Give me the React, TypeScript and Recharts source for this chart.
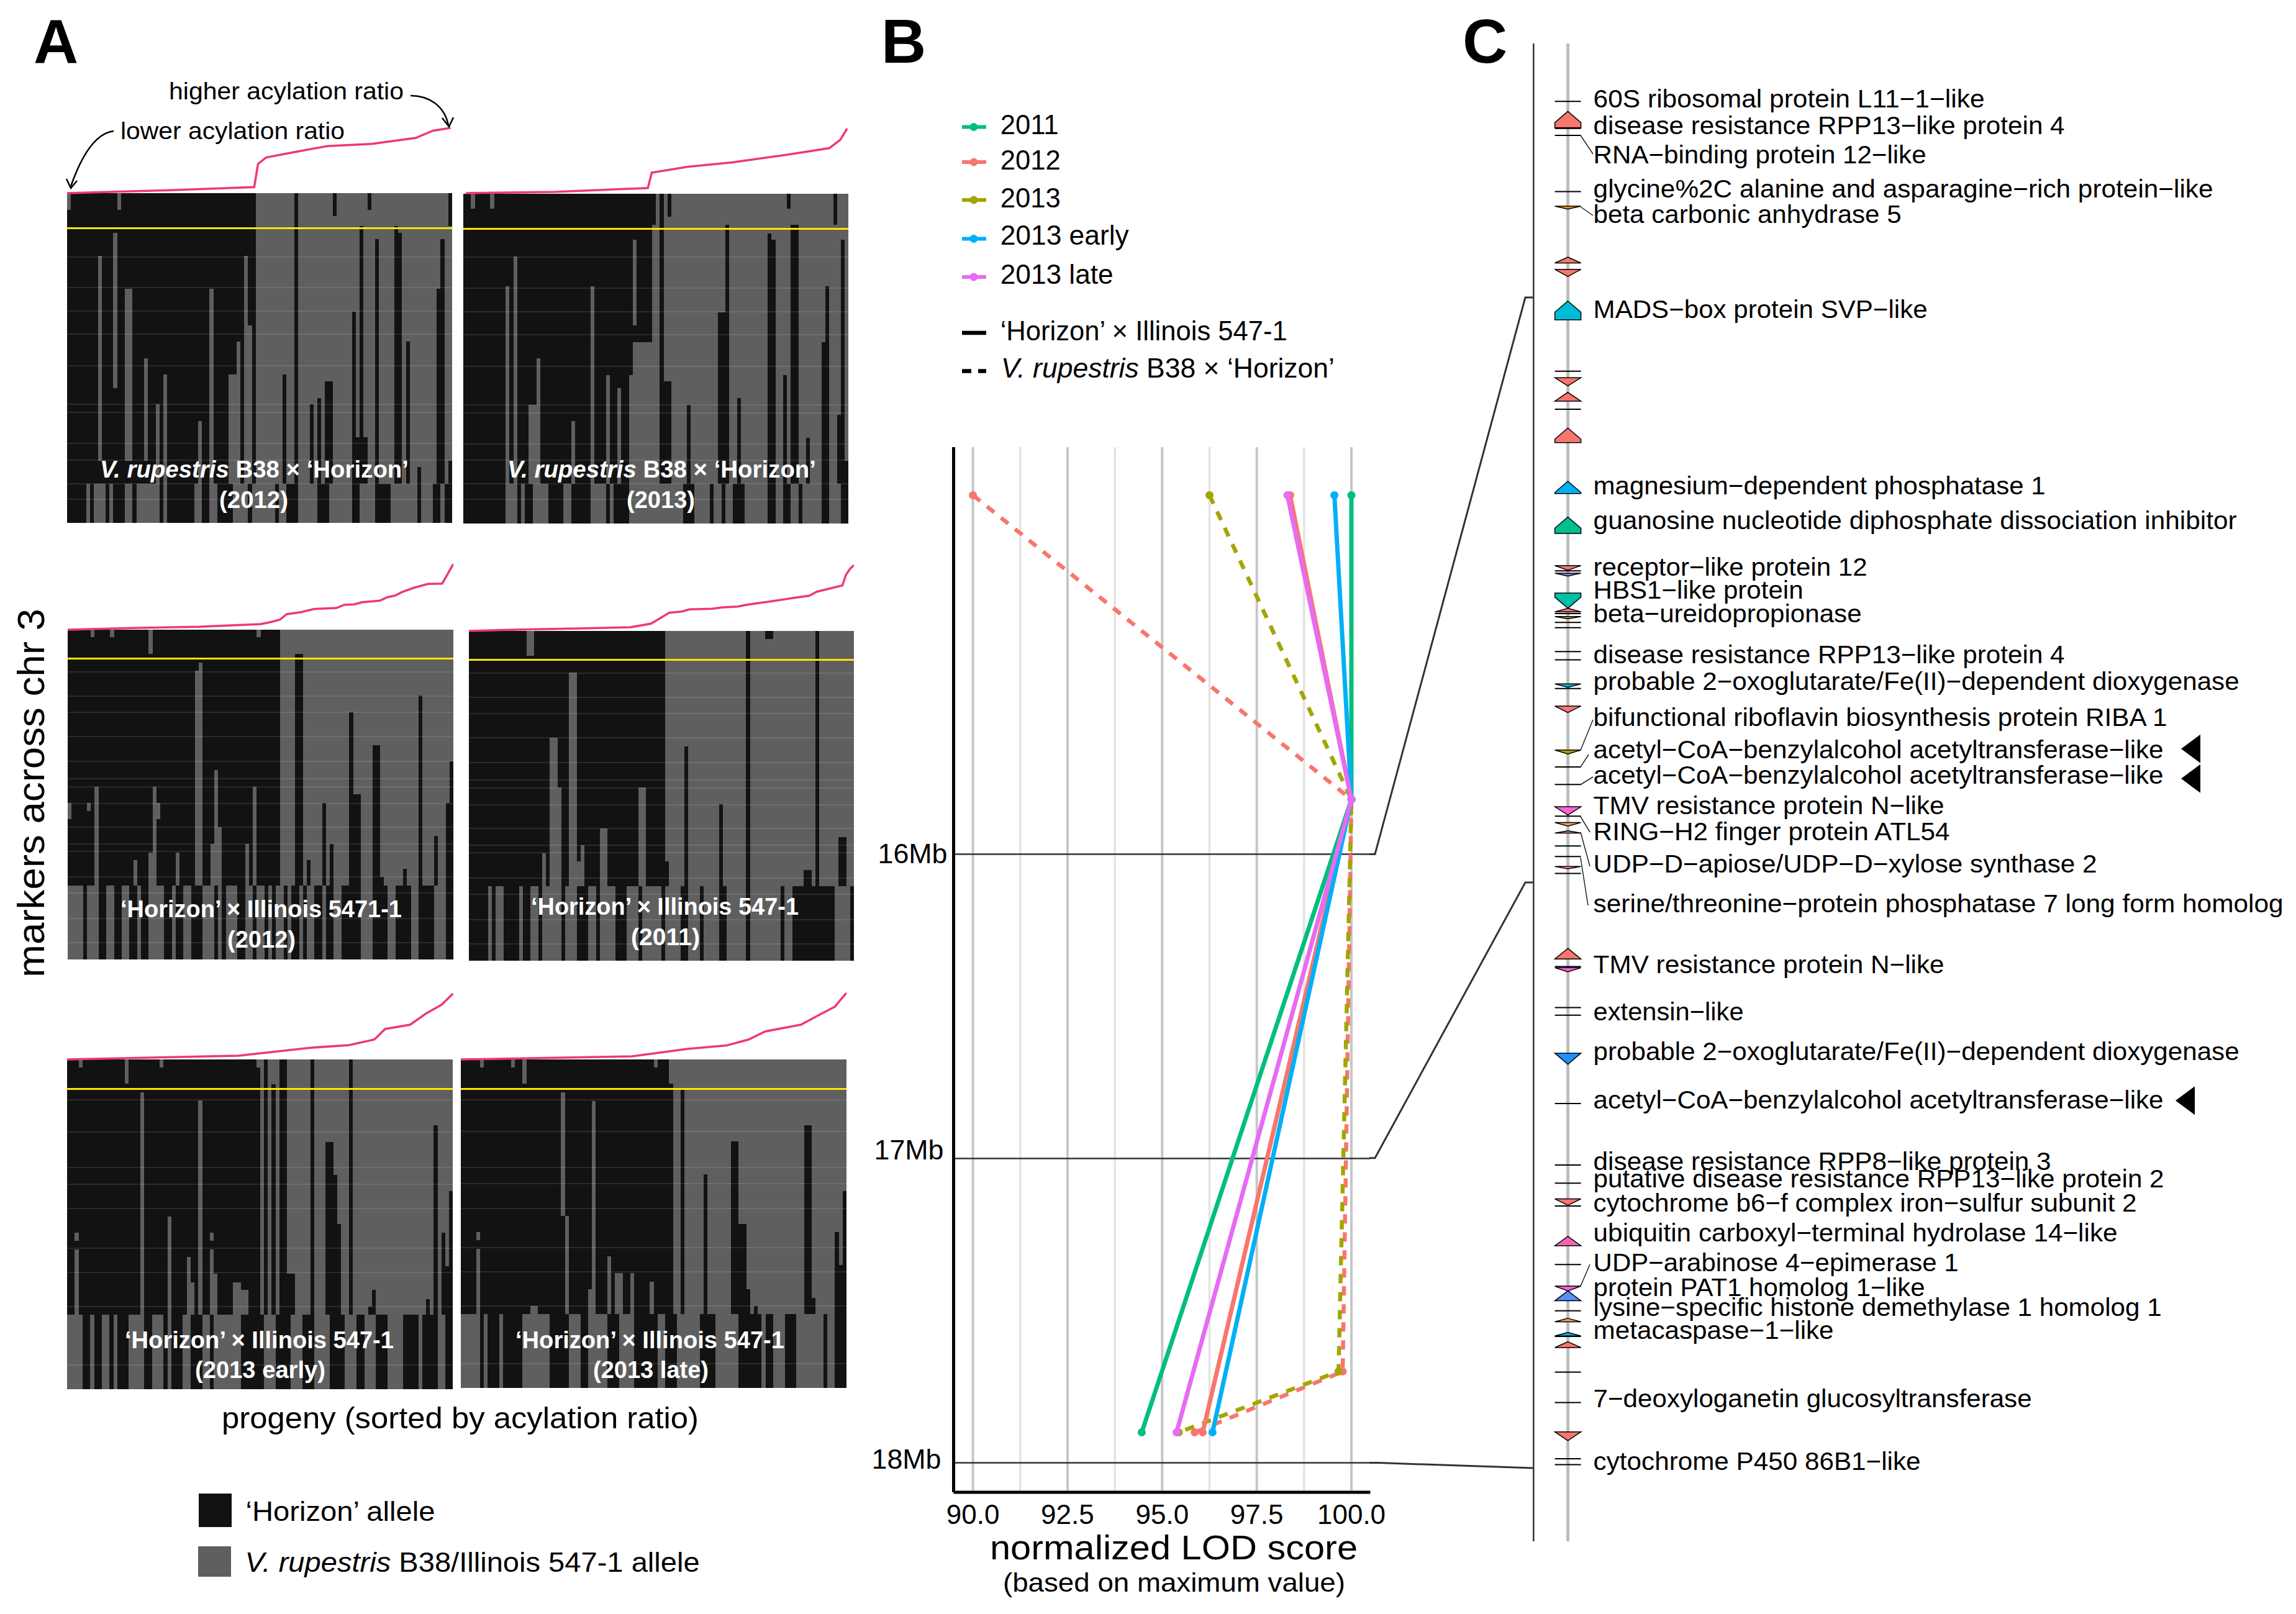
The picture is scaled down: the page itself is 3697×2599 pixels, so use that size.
import React from 'react';
import { BarChart, Bar, XAxis, YAxis, ReferenceLine, LineChart, Line, ScatterChart, Scatter } from 'recharts';

// ---------- Panel A: acylation ratio curves, [progeny, ratio units]
const curve2012Rup = [[0,0],[25.8,4.6],[48.6,9.8],[49.6,47],[51.7,57.4],[57.5,64.3],[67.6,75.8],[79.1,79.2],[90.6,89],[95,100.5],[99.6,105]];
const curve2013Rup = [[0.7,1],[23.7,2.9],[47.9,9.2],[48.9,33.9],[58.3,43.6],[69.8,50.5],[84.2,63.1],[95,73.5],[97.8,86.7],[99.6,105]];
const curve2012Ill = [[0,0],[18.4,3],[34,4.7],[50,9],[52.6,12.3],[55,16],[56.8,25],[60.5,28.3],[63.8,33.3],[69.7,35],[71.7,40],[74.3,40.7],[76.3,44.3],[80.9,46.7],[82.9,52.3],[84.9,55],[86.6,60.3],[89.5,67],[93.4,73.7],[97.1,74.3],[98.4,88.3],[99.3,98.3],[100,105.7]];
const curve2011Ill = [[0,0],[13,2.3],[28.8,4],[42,6],[47.3,11.7],[50,21.7],[52,29.3],[55.3,31.3],[57.3,34.7],[63.2,35.7],[65.9,38],[69.8,39.3],[71.8,41.7],[75.1,44.7],[79.1,48.3],[84.4,53.3],[88.4,56.7],[90.4,63.3],[93.7,68.3],[97,73.3],[97.9,90],[99,100],[100,106]];
const curve2013Early = [[0,0],[44.4,6],[63,18.8],[73,23],[79.6,32],[82.4,49],[88.9,56],[93,74],[97,88],[99,100],[100,106]];
const curve2013Late = [[0,0],[44.4,5],[58.8,17],[68.8,22.4],[74.6,32],[78.9,45],[88.2,56],[93,72],[97,85],[99,100],[100,107]];

// ---------- Panel A: genotype flips, [first progeny, last progeny, from depth %, to depth %]
const flips2012Rup = [[0,0,0,5],[13,13,0,5],[12,12,12,59],[8,8,19,81],[15,16,29,81],[20,20,50,81],[25,25,55,88],[23,23,64,88],[37,37,29,62],[37,37,62,88],[34,34,69,88],[44,44,45,88],[46,47,40,88],[46,46,19,40],[42,43,55,88],
  [59,59,0,100],[69,69,0,7],[78,78,0,5],[99,99,0,10],[76,76,10,100],[85,85,10,100],[86,86,12,100],[80,80,14,100],[97,97,14,100],[96,96,29,100],[74,74,36,100],[88,88,45,100],[56,56,55,100],[67,68,57,100],[65,65,62,100],[63,63,64,100],[75,77,74,100],[96,97,67,100],[99,99,81,100],[91,91,83,100]];
const flips2013Rup = [[2,2,0,4.5],[7,7,0,4.5],[11,11,28,88],[13,13,19,88],[17,18,64,88],[19,19,50,88],[28,28,69,88],[33,33,28,88],[37,37,55,88],[40,40,59,88],[43,43,55,88],[44,46,45,88],[44,44,14,40],[47,48,45,88],
  [49,49,0,9.5],[51,51,0,100],[53,53,0,7],[84,84,0,4.5],[96,96,0,9.5],[68,68,9.5,100],[85,86,9.5,100],[79,79,12,100],[80,80,14,100],[98,98,14,100],[94,94,28,100],[66,67,36,100],[93,93,45,100],[83,83,55,100],[52,53,57,100],[71,71,62,100],[58,58,64,100],[89,89,74,100],[97,97,67,100],[99,99,81,100]];
const flips2012Ill = [[6,6,0,2.3],[11,11,0,2.3],[21,21,0,7.4],[49,49,0,2.3],[34,34,10,78],[33,33,12.5,78],[7,7,47.7,78],[22,22,47.7,78],[23,23,52.5,57.5],[0,0,52.5,57.5],[5,5,52.5,55],[38,38,42.6,78],[48,48,47.7,78],[39,39,60,78],[21,21,67.6,78],[28,28,67.6,78],[46,46,65,78],[17,17,70,78],[37,37,65,78],
  [59,60,7.4,100],[73,73,25,100],[91,91,20,100],[79,80,35,100],[74,75,50,100],[99,99,40,100],[66,66,52.5,100],[98,98,52.5,100],[95,95,62.5,100],[68,68,65,100],[62,62,70,100],[87,87,72.6,100],[81,81,75,100]];
const flips2011Ill = [[15,16,0,7.5],[26,27,12.6,78],[21,22,32.5,78],[23,23,47.5,78],[44,45,47.5,78],[34,35,60,78],[29,29,65,78],[28,28,70,78],[19,19,67.5,78],
  [72,72,0,100],[77,78,0,2.4],[90,90,0,100],[56,56,35,100],[65,65,52.6,100],[96,97,62.6,100],[51,51,70,100],[87,88,72.6,100]];
const flips2013Early = [[3,3,0,2.5],[15,15,0,7.4],[24,24,0,2.5],[19,19,10,78],[34,34,12.5,78],[26,26,47.6,78],[2,2,52.5,55],[2,2,57.6,78],[37,37,52.5,55],[37,37,57.6,78],[31,31,60,78],[32,32,67.6,78],[38,38,65,78],[43,44,67.6,78],[45,46,70,78],
  [49,49,2.5,100],[51,51,0,100],[53,53,7.6,100],[55,56,0,100],[63,63,0,100],[73,73,0,100],[95,95,20,100],[67,68,25,100],[69,69,35,100],[99,99,40,100],[70,70,50,100],[97,97,52.5,100],[57,58,65,100],[79,79,70,100],[98,98,62.7,100],[93,93,72.7,100],[78,78,75,100]];
const flips2013Late = [[5,5,0,2.5],[13,13,0,2.5],[16,16,0,7.4],[50,50,0,2.5],[26,26,10,47.6],[34,34,12.6,67.7],[27,27,47.6,78],[4,4,52.6,55],[4,4,57.7,78],[38,38,60,78],[34,34,67.7,78],[33,33,70,78],[40,41,65,78],[44,44,65,78],[49,49,67.7,78],[18,19,75,78],
  [54,54,7.4,100],[57,57,9,100],[89,90,20,100],[70,71,25,100],[63,63,35,100],[99,99,40,100],[72,73,50,100],[97,97,52.6,100],[98,98,62.6,100],[74,74,70,100],[76,76,75,100],[91,91,72.6,100]];

// ---------- Panel A: progeny that carry the second allele in the lowest marker band
const band2012Rup = [[5,5],[7,9],[11,11],[15,16],[18,19],[20,23],[25,25],[33,34],[37,38],[43,46],[48,53],[55,56],[60,64],[68,73],[76,79],[84,90],[92,94],[97,97]];
const band2013Rup = [[11,13],[15,15],[18,21],[26,27],[33,36],[38,38],[43,56],[60,63],[65,66],[68,69],[73,78],[81,82],[85,86],[88,92],[95,97]];
const band2012Ill = [[0,3],[5,5],[6,7],[10,11],[14,15],[18,18],[21,24],[27,27],[30,31],[35,37],[39,39],[41,43],[46,47],[49,50],[52,52],[54,55],[57,57],[60,60],[62,63],[66,66],[69,70],[76,78],[83,84],[89,90],[95,97]];
const band2011Ill = [[5,5],[7,8],[13,13],[16,17],[19,23],[25,27],[31,32],[34,37],[41,43],[45,49],[51,54],[57,59],[61,64],[67,71],[73,80],[82,83],[95,98]];
const band2013Early = [[0,1],[2,3],[6,6],[9,10],[12,12],[16,19],[22,24],[26,26],[30,31],[35,36],[38,40],[41,44],[51,53],[58,60],[64,67],[72,74],[77,79],[83,86],[91,91],[96,97]];
const band2013Late = [[0,4],[6,6],[10,10],[16,18],[19,22],[28,30],[33,37],[41,44],[51,52],[56,61],[66,71],[78,78],[81,83],[87,93],[95,96]];

const faintRows1 = [19.3,28.6,35.8,42.8,52.3,64,66.5,75.9,80.9,88,92.8];
const faintRows2 = [12.9,20.2,25,32.4,40,45.3,47.7,52.8,59.9,65,67.3,75,80,87.6,95];
const faintRows3 = [12.2,22,32.8,37.9,45.3,57.3,64.7,75,92.7];

const panels = [
  { left:108, top:310.5, w:620, h:531.5, split:49, bandAt:88, flips:flips2012Rup, band:band2012Rup, curve:curve2012Rup, marker:10.6, faint:faintRows1 },
  { left:745.5, top:312, w:620.5, h:530.7, split:49, bandAt:88, flips:flips2013Rup, band:band2013Rup, curve:curve2013Rup, marker:10.6, faint:faintRows1 },
  { left:109, top:1014, w:621, h:530.5, split:55, bandAt:77.6, flips:flips2012Ill, band:band2012Ill, curve:curve2012Ill, marker:8.8, faint:faintRows2 },
  { left:755, top:1016, w:620, h:530.6, split:51, bandAt:77.4, flips:flips2011Ill, band:band2011Ill, curve:curve2011Ill, marker:8.7, faint:faintRows2 },
  { left:108, top:1706, w:621.5, h:530.6, split:49, bandAt:77.5, flips:flips2013Early, band:band2013Early, curve:curve2013Early, marker:9, faint:faintRows3 },
  { left:742, top:1706, w:621, h:529, split:54, bandAt:77.5, flips:flips2013Late, band:band2013Late, curve:curve2013Late, marker:9, faint:faintRows3 },
];

// ---------- Panel B: normalized LOD score at marker positions (Mb)
const markerMb = [14.82, 15.82, 17.70, 17.90];
const lod2011 = [100, 100, 94.46];
const lod2012Solid = [98.38, 100, 96.07];
const lod2013Early = [99.55, 100, 96.33];
const lod2013Late = [98.31, 100, 95.38];
const lod2012Dash = [90.0, 100, 99.77, 95.86];
const lod2013Dash = [96.25, 100, 99.66, 95.44];
const lodTicks = [90, 92.5, 95, 97.5, 100];
const lodMinor = [91.25, 93.75, 96.25, 98.75];
const mbTicks = [16, 17, 18];

// ---------- Panel C: genes, [start Mb, end Mb, strand, family]
const genes: any[] = [
  [15.665,15.665,0,''],[15.682,15.710,1,'red'],[15.711,15.711,0,''],[15.723,15.723,0,''],[15.819,15.819,0,''],[15.844,15.849,-1,'orange'],
  [15.931,15.941,1,'red'],[15.952,15.964,-1,'red'],[16.006,16.038,1,'cyan'],[16.126,16.126,0,''],[16.137,16.151,-1,'red'],[16.162,16.177,1,'red'],
  [16.191,16.191,0,''],[16.223,16.248,1,'red'],[16.314,16.335,1,'sky'],[16.375,16.403,1,'green'],[16.458,16.466,-1,'red'],[16.467,16.467,0,''],
  [16.471,16.476,-1,'violet'],[16.505,16.531,-1,'teal'],[16.531,16.537,1,'red'],[16.540,16.540,0,''],[16.545,16.549,-1,'olive'],[16.555,16.555,0,''],
  [16.564,16.564,0,''],[16.605,16.605,0,''],[16.619,16.619,0,''],[16.660,16.666,-1,'sky'],[16.668,16.668,0,''],[16.698,16.709,-1,'red'],
  [16.773,16.780,-1,'olive'],[16.802,16.802,0,''],[16.832,16.832,0,''],[16.870,16.884,-1,'magenta'],[16.886,16.886,0,''],[16.897,16.903,-1,'salmon'],
  [16.911,16.915,1,'red'],[16.937,16.937,0,''],[16.955,16.955,0,''],[16.972,16.976,-1,'salmon'],[16.984,16.984,0,''],[17.112,17.130,1,'red'],
  [17.143,17.143,0,''],[17.145,17.152,-1,'magenta'],[17.213,17.213,0,''],[17.226,17.226,0,''],[17.291,17.310,-1,'dodger'],[17.377,17.377,0,''],
  [17.482,17.482,0,''],[17.513,17.513,0,''],[17.540,17.551,-1,'red'],[17.552,17.552,0,''],[17.604,17.620,1,'pink'],[17.652,17.652,0,''],
  [17.689,17.697,-1,'magenta'],[17.697,17.714,1,'periwinkle'],[17.731,17.731,0,''],[17.744,17.750,1,'salmon'],[17.768,17.774,1,'sky'],[17.775,17.775,0,''],
  [17.784,17.794,1,'red'],[17.836,17.836,0,''],[17.888,17.888,0,''],[17.938,17.953,-1,'red'],[17.984,17.984,0,''],[17.994,17.994,0,''],
];
const geneNames = [
  '60S ribosomal protein L11−1−like','disease resistance RPP13−like protein 4','RNA−binding protein 12−like','glycine%2C alanine and asparagine−rich protein−like','beta carbonic anhydrase 5',
  'MADS−box protein SVP−like','magnesium−dependent phosphatase 1','guanosine nucleotide diphosphate dissociation inhibitor','receptor−like protein 12','HBS1−like protein','beta−ureidopropionase',
  'disease resistance RPP13−like protein 4','probable 2−oxoglutarate/Fe(II)−dependent dioxygenase','bifunctional riboflavin biosynthesis protein RIBA 1','acetyl−CoA−benzylalcohol acetyltransferase−like','acetyl−CoA−benzylalcohol acetyltransferase−like',
  'TMV resistance protein N−like','RING−H2 finger protein ATL54','UDP−D−apiose/UDP−D−xylose synthase 2','serine/threonine−protein phosphatase 7 long form homolog','TMV resistance protein N−like',
  'extensin−like','probable 2−oxoglutarate/Fe(II)−dependent dioxygenase','acetyl−CoA−benzylalcohol acetyltransferase−like','disease resistance RPP8−like protein 3','putative disease resistance RPP13−like protein 2',
  'cytochrome b6−f complex iron−sulfur subunit 2','ubiquitin carboxyl−terminal hydrolase 14−like','UDP−arabinose 4−epimerase 1','protein PAT1 homolog 1−like','lysine−specific histone demethylase 1 homolog 1',
  'metacaspase−1−like','7−deoxyloganetin glucosyltransferase','cytochrome P450 86B1−like',
];
const geneNameMb = [15.663,15.708,15.758,15.816,15.860,16.022,16.323,16.383,16.462,16.502,16.542,16.612,16.658,16.719,16.774,16.818,16.870,16.914,16.970,17.038,17.141,17.222,17.290,17.373,17.478,17.508,17.549,17.600,17.651,17.693,17.727,17.766,17.883,17.990];
const geneNameWidths = [630,759,536,998,496,538,728,1036,441,338,432,759,1040,924,918,918,565,574,811,1111,565,242,1040,918,737,919,875,844,588,534,915,387,706,527];
const flaggedMb = [16.771,16.822,17.372];

// ---------- styles
const DARK = '#121212', GREY = '#5F5F5F';
const C2011 = '#00BF7D', C2012 = '#F8766D', C2013 = '#A3A500', CEARLY = '#00B0F6', CLATE = '#E76BF3';
const FAM: any = { red:'#F8766D', orange:'#E69F00', cyan:'#00BCD8', sky:'#00B0F6', green:'#00BF8C', teal:'#00BFA5', violet:'#9B6BE0', olive:'#B79F00', magenta:'#FF62D8', salmon:'#FF9478', dodger:'#1E90FF', pink:'#F564B4', periwinkle:'#5B8CFF' };
const SANS = '"Liberation Sans", Arial, sans-serif';
const PX_PER_MB = 942.5;

function buildRows(p: any) {
  const rows = [];
  for (let col = 0; col < 100; col++) {
    const base = col < p.split ? DARK : GREY;
    const other = col < p.split ? GREY : DARK;
    const active = p.flips.filter((f: any) => col >= f[0] && col <= f[1]);
    const stops = new Set<number>([0, p.bandAt, 100]);
    active.forEach((f: any) => { if (f[2] < p.bandAt) stops.add(f[2]); if (f[3] < p.bandAt) stops.add(f[3]); });
    const sorted = Array.from(stops).sort((a, b) => a - b);
    const segs: any[] = [];
    for (let i = 0; i < sorted.length - 1; i++) {
      const a = sorted[i], b = sorted[i + 1];
      let c;
      if (a >= p.bandAt) c = p.band.some((r: any) => col >= r[0] && col <= r[1]) ? GREY : DARK;
      else c = active.some((f: any) => f[2] <= a && f[3] >= b) ? other : base;
      segs.push([b - a, c]);
    }
    const row: any = { col };
    for (let k = 0; k < 8; k++) { row['s' + k] = segs[k] ? segs[k][0] : 0; row['c' + k] = segs[k] ? segs[k][1] : DARK; }
    rows.push(row);
  }
  return rows;
}

// The band axis rounds each bar's width down, which would leave hairline gaps, so each column fills its full 1/100 slot.
const segShape = (k: number, chartWidth: number) => (q: any) => {
  const h = Math.abs(q.height || 0);
  if (!h) return <g />;
  const slot = chartWidth / 100;
  return <rect x={q.payload.col * slot} y={Math.min(q.y, q.y + q.height)} width={slot} height={h} fill={q.payload['c' + k]} />;
};

function Box({ left, top, width, height, children, z }: any) {
  return <div style={{ position: 'absolute', left, top, width, height, zIndex: z || 1 }}>{children}</div>;
}

function Heat({ p }: any) {
  const rows = buildRows(p);
  return (
    <Box left={p.left} top={p.top} width={p.w} height={p.h}>
      <div style={{ shapeRendering: 'crispEdges' } as any}>
        <BarChart width={p.w} height={p.h} data={rows} margin={{ top: 0, right: 0, bottom: 0, left: 0 }} barCategoryGap={0} barGap={0}>
          <XAxis dataKey="col" type="category" hide />
          <YAxis type="number" domain={[0, 100]} reversed hide />
          {[0, 1, 2, 3, 4, 5, 6, 7].map(k => (
            <Bar key={k} dataKey={'s' + k} stackId="a" isAnimationActive={false} shape={segShape(k, p.w)} />
          ))}
          {p.faint.map((d: number) => <ReferenceLine key={'h' + d} y={d} stroke="#ffffff" strokeOpacity={0.1} strokeWidth={2} />)}
          <ReferenceLine y={p.marker} stroke="#FFE600" strokeWidth={3} />
        </BarChart>
      </div>
    </Box>
  );
}

function Curve({ p }: any) {
  const data = p.curve.map((d: number[]) => ({ prog: d[0], ratio: d[1] }));
  return (
    <Box left={p.left} top={p.top - 130} width={p.w} height={134} z={2}>
      <LineChart width={p.w} height={134} data={data} margin={{ top: 0, right: 0, bottom: 4, left: 0 }}>
        <XAxis dataKey="prog" type="number" domain={[0, 100]} hide />
        <YAxis type="number" domain={[0, 130]} hide />
        <Line dataKey="ratio" stroke="#EE3A6E" strokeWidth={3.5} dot={false} isAnimationActive={false} />
      </LineChart>
    </Box>
  );
}

const T = ({ x, y, w, size, weight, fill, anchor, children, transform }: any) => (
  <text x={x} y={y} fontFamily={SANS} fontSize={size} fontWeight={weight || 400} fill={fill || '#000'} textAnchor={anchor || 'start'}
    textLength={w} lengthAdjust="spacingAndGlyphs" transform={transform} style={{ whiteSpace: 'pre' } as any}>{children}</text>
);

const series = (vals: number[], dashed: boolean) => {
  const mbs = dashed ? markerMb : [markerMb[0], markerMb[1], markerMb[3]];
  return vals.map((lod, i) => ({ lod, mb: mbs[i] }));
};
const dotShape = (color: string) => (q: any) => <circle cx={q.cx} cy={q.cy} r={6.5} fill={color} />;

function MbTick({ x, y, payload }: any) {
  const shift: any = { 16: [-2, 14], 17: [-8, 1], 18: [-12, 10] };
  const s = shift[payload.value] || [-10, 8];
  return <text x={x + s[0]} y={y + s[1]} textAnchor="end" fontFamily={SANS} fontSize={44} textLength={112} lengthAdjust="spacingAndGlyphs" fill="#000">{payload.value}Mb</text>;
}
function LodTick({ x, y, payload }: any) {
  return <text x={x} y={y + 43} textAnchor="middle" fontFamily={SANS} fontSize={44} fill="#000">{payload.value.toFixed(1)}</text>;
}

function PanelB() {
  const lines: any[] = [
    [lod2012Dash, C2012, true], [lod2013Dash, C2013, true],
    [lod2011, C2011, false], [lod2012Solid, C2012, false], [lod2013Early, CEARLY, false], [lod2013Late, CLATE, false],
  ];
  return (
    <Box left={1380} top={700} width={920} height={1800}>
      <ScatterChart width={920} height={1800} margin={{ top: 20, right: 93.5, bottom: 0, left: 0 }}>
        <XAxis type="number" dataKey="lod" domain={[89.49, 100.5]} ticks={lodTicks} tick={LodTick} tickLine={false} height={97} axisLine={{ stroke: '#000', strokeWidth: 5 }} allowDataOverflow interval={0} />
        <YAxis type="number" dataKey="mb" domain={[14.662, 18.097]} ticks={mbTicks} reversed tick={MbTick} tickLine={false} width={155.5} axisLine={{ stroke: '#000', strokeWidth: 5 }} allowDataOverflow interval={0} />
        {lodMinor.map(v => <ReferenceLine key={v} x={v} stroke="#E3E3E3" strokeWidth={3.5} />)}
        {lodTicks.map(v => <ReferenceLine key={v} x={v} stroke="#C6C6C6" strokeWidth={4} />)}
        {mbTicks.map(v => <ReferenceLine key={v} y={v} stroke="#333" strokeWidth={2.5} />)}
        {lines.map((l, i) => (
          <Scatter key={i} data={series(l[0], l[2])} fill={l[1]} isAnimationActive={false} shape={dotShape(l[1])} lineType="joint"
            line={{ stroke: l[1], strokeWidth: l[2] ? 6.5 : 7, strokeDasharray: l[2] ? '15 14' : undefined }} />
        ))}
      </ScatterChart>
    </Box>
  );
}

const geneShape = (q: any) => {
  const [start, end, dir, fam] = q.payload.g;
  const top = q.cy, h = (end - start) * PX_PER_MB, cx = q.cx, W = 21;
  if (dir === 0) return <line x1={cx - W} x2={cx + W} y1={top} y2={top} stroke="#000" strokeWidth={2} />;
  const hh = Math.min(h, 18), bot = top + h;
  const pts = dir > 0
    ? [[cx, top], [cx + W, top + hh], [cx + W, bot], [cx - W, bot], [cx - W, top + hh]]
    : [[cx - W, top], [cx + W, top], [cx + W, bot - hh], [cx, bot], [cx - W, bot - hh]];
  return <polygon points={pts.map(a => a.join(',')).join(' ')} fill={FAM[fam]} stroke="#000" strokeWidth={1.5} />;
};
const nameShape = (q: any) => (
  <text x={q.cx} y={q.cy + 12} fontFamily={SANS} fontSize={41} fill="#000" textLength={q.payload.w} lengthAdjust="spacingAndGlyphs">{q.payload.name}</text>
);
const flagShape = (q: any) => (
  <polygon points={`${q.cx},${q.cy} ${q.cx + 31},${q.cy - 23} ${q.cx + 31},${q.cy + 23}`} fill="#000" />
);

function PanelC() {
  const TRACK = 84.6, NAMEX = 125.6;
  const geneData = genes.map(g => ({ x: TRACK, y: g[0], g }));
  const nameData = geneNames.map((name, i) => ({ x: NAMEX, y: geneNameMb[i], name, w: geneNameWidths[i] }));
  const flagData = flaggedMb.map((y, i) => ({ x: i < 2 ? 1072 : 1063, y }));
  return (
    <Box left={2440} top={70} width={1257} height={2412}>
      <ScatterChart width={1257} height={2412} margin={{ top: 0, right: 0, bottom: 0, left: 0 }}>
        <XAxis type="number" dataKey="x" domain={[0, 1257]} hide />
        <YAxis type="number" dataKey="y" domain={[15.566, 18.125]} reversed hide />
        <ReferenceLine x={29.3} stroke="#333" strokeWidth={2.5} />
        <ReferenceLine x={TRACK} stroke="#BDBDBD" strokeWidth={5} />
        <Scatter data={geneData} isAnimationActive={false} shape={geneShape} />
        <Scatter data={nameData} isAnimationActive={false} shape={nameShape} />
        <Scatter data={flagData} isAnimationActive={false} shape={flagShape} />
      </ScatterChart>
    </Box>
  );
}

function Overlay() {
  const keys: any[] = [['2011', C2011, 204.5, 216, 94], ['2012', C2012, 261, 272.5, 97], ['2013', C2013, 322, 334, 97], ['2013 early', CEARLY, 384.4, 394, 207], ['2013 late', CLATE, 446, 456.5, 182]];
  const leaders = [[2545,218,2565,248],[2545,333,2565,347],[2545,1208,2565,1159],[2545,1235,2558,1215],[2545,1263.5,2565,1251],[2545,1315,2560,1340],[2545,1340,2560,1395],[2545,1381,2557,1458],[2545,2071,2560,2036]];
  return (
    <svg width={3697} height={2599} style={{ position: 'absolute', left: 0, top: 0, zIndex: 3, pointerEvents: 'none' }}>
      <T x={54} y={102} size={100} weight={700}>A</T>
      <T x={1419} y={101} size={100} weight={700}>B</T>
      <T x={2355} y={101} size={100} weight={700}>C</T>

      <T x={272} y={160} w={378} size={38}>higher acylation ratio</T>
      <T x={194} y={224} w={361} size={38}>lower acylation ratio</T>
      <path d="M661,154 C690,154 716,170 722,202" fill="none" stroke="#000" strokeWidth={2.5} />
      <path d="M712,190 L723,204 L730,189" fill="none" stroke="#000" strokeWidth={2.5} />
      <path d="M183,211 C150,215 128,260 114,300" fill="none" stroke="#000" strokeWidth={2.5} />
      <path d="M107,288 L114,303 L124,291" fill="none" stroke="#000" strokeWidth={2.5} />

      <T x={161} y={769} w={497} size={38} weight={700} fill="#fff"><tspan fontStyle="italic">V. rupestris</tspan> B38 × ‘Horizon’</T>
      <T x={353} y={818} w={111} size={38} weight={700} fill="#fff">(2012)</T>
      <T x={817} y={769} w={497} size={38} weight={700} fill="#fff"><tspan fontStyle="italic">V. rupestris</tspan> B38 × ‘Horizon’</T>
      <T x={1009} y={818} w={110} size={38} weight={700} fill="#fff">(2013)</T>
      <T x={194} y={1476.5} w={453} size={38} weight={700} fill="#fff">‘Horizon’ × Illinois 5471-1</T>
      <T x={366} y={1526} w={110} size={38} weight={700} fill="#fff">(2012)</T>
      <T x={855} y={1473} w={431} size={38} weight={700} fill="#fff">‘Horizon’ × Illinois 547-1</T>
      <T x={1016} y={1522} w={111} size={38} weight={700} fill="#fff">(2011)</T>
      <T x={201} y={2170.6} w={433} size={38} weight={700} fill="#fff">‘Horizon’ × Illinois 547-1</T>
      <T x={314} y={2219} w={210} size={38} weight={700} fill="#fff">(2013 early)</T>
      <T x={830} y={2170.6} w={433} size={38} weight={700} fill="#fff">‘Horizon’ × Illinois 547-1</T>
      <T x={955} y={2219} w={186} size={38} weight={700} fill="#fff">(2013 late)</T>

      <T x={357} y={2300} w={768} size={48}>progeny (sorted by acylation ratio)</T>
      <rect x={320} y={2405} width={53} height={54} fill={DARK} />
      <rect x={319} y={2490} width={53} height={49} fill={GREY} />
      <T x={395.5} y={2449} w={305} size={44}>‘Horizon’ allele</T>
      <T x={394.6} y={2531} w={732} size={44}><tspan fontStyle="italic">V. rupestris</tspan> B38/Illinois 547-1 allele</T>
      <T x={71} y={1574} w={594} size={62} transform="rotate(-90 71 1574)">markers across chr 3</T>

      {keys.map(k => (
        <g key={k[0]}>
          <line x1={1549} x2={1588} y1={k[2]} y2={k[2]} stroke={k[1]} strokeWidth={6} />
          <circle cx={1568} cy={k[2]} r={6.5} fill={k[1]} />
          <T x={1610.7} y={k[3]} w={k[4]} size={44}>{k[0]}</T>
        </g>
      ))}
      <line x1={1549} x2={1588} y1={536} y2={536} stroke="#000" strokeWidth={6.5} />
      <line x1={1549} x2={1588} y1={597.5} y2={597.5} stroke="#000" strokeWidth={6.5} strokeDasharray="15 11" />
      <T x={1610.7} y={548} w={462} size={44}>‘Horizon’ × Illinois 547-1</T>
      <T x={1612} y={608} w={537} size={44}><tspan fontStyle="italic">V. rupestris</tspan> B38 × ‘Horizon’</T>

      <T x={1594} y={2511} w={592} size={56}>normalized LOD score</T>
      <T x={1615} y={2563} w={551} size={42}>(based on maximum value)</T>

      <polyline points="2205,1375.5 2214,1375.5 2456,479 2469,479" fill="none" stroke="#333" strokeWidth={3} />
      <polyline points="2205,1864.7 2214,1864.7 2456,1421 2469,1421" fill="none" stroke="#333" strokeWidth={3} />
      <polyline points="2205,2355.6 2220,2355.6 2469,2364" fill="none" stroke="#333" strokeWidth={3} />

      {leaders.map((l, i) => <line key={i} x1={l[0]} y1={l[1]} x2={l[2]} y2={l[3]} stroke="#222" strokeWidth={1.5} />)}
    </svg>
  );
}

export default function App() {
  return (
    <div style={{ position: 'absolute', left: 0, top: 0, width: 3697, height: 2599, background: '#fff', overflow: 'hidden' }}>
      {panels.map((p, i) => <Heat key={i} p={p} />)}
      {panels.map((p, i) => <Curve key={i} p={p} />)}
      <PanelB />
      <PanelC />
      <Overlay />
    </div>
  );
}
